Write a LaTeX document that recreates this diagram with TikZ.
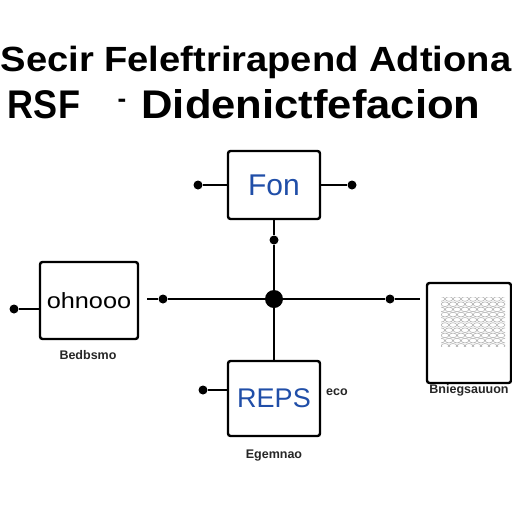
\documentclass[tikz,border=0pt]{standalone}
\usepackage{fontspec}
\setmainfont{Liberation Sans}
\usetikzlibrary{calc}
\definecolor{boxblue}{RGB}{32,78,168}
\tikzset{
  blk/.style={draw=black, line width=2.4pt, rounded corners=2.5pt, fill=white, inner sep=0pt},
  dotnode/.style={circle, fill=black, inner sep=0pt, minimum size=9pt},
  bigdot/.style={circle, fill=black, inner sep=0pt, minimum size=18pt},
  wire/.style={line width=1.6pt, black},
  lbl/.style={font=\fontsize{12.5}{14}\selectfont\bfseries, text=black!85, inner sep=0pt},
  title/.style={font=\fontsize{35}{40}\selectfont\bfseries, inner sep=0pt, anchor=base}
}
\begin{document}
\begin{tikzpicture}[x=1pt,y=-1pt]
\useasboundingbox (0,0) rectangle (512,512);
\fill[white] (0,0) rectangle (512,512);
% titles
\node[title] (t1) at (256,71) {\scalebox{1.09}[1]{Secir Feleftrirapend Adtiona}};
\node[title, font=\fontsize{40}{44}\selectfont\bfseries] (t2a) at (44,118) {\scalebox{0.9}[1]{RSF}};
\node[title, font=\fontsize{26}{30}\selectfont\bfseries] (t2b) at (122,107) {-};
\node[title, font=\fontsize{40}{44}\selectfont\bfseries] (t2c) at (311,118) {\scalebox{1.09}[1]{Didenictfefacion}};
% boxes
\node[blk, minimum width=92pt, minimum height=68pt, text=boxblue, font=\fontsize{30}{34}\selectfont] (fon) at (274,185) {Fon};
\node[blk, minimum width=98pt, minimum height=77pt, font=\fontsize{22}{26}\selectfont] (ohn) at (89,300.5) {\scalebox{1.15}[1]{ohnooo}};
\node[blk, minimum width=92pt, minimum height=75pt, text=boxblue, font=\fontsize{27}{30}\selectfont] (reps) at (274,398.5) {REPS};
\node[blk, minimum width=84pt, minimum height=100pt] (rbox) at (469,333) {};
% pattern inside right box
\begin{scope}
\clip (441,297) rectangle (505,346);
\foreach \r in {0,...,9} {
  \foreach \c in {0,...,8} {
    \pgfmathsetmacro{\xx}{441+\c*8+mod(\r,2)*4}
    \pgfmathsetmacro{\yy}{299+\r*5.2}
    \draw[gray!60, line width=0.6pt] (\xx,\yy) ellipse (3.8pt and 2.3pt);
  }
}
\end{scope}
% junction and dots
\node[bigdot] (j) at (274,299) {};
\node[dotnode] (d1) at (198,185) {};
\node[dotnode] (d2) at (352,185) {};
\node[dotnode] (d3) at (274,240) {};
\node[dotnode] (d4) at (163,299) {};
\node[dotnode] (d5) at (390,299) {};
\node[dotnode] (d6) at (14,309) {};
\node[dotnode] (d7) at (203,390) {};
\coordinate (hl) at (147,299);
\coordinate (hr) at (420,299);
% wires
\draw[wire] (fon.south) -- (d3) -- (j) -- (reps.north);
\draw[wire] (hl) -- (d4) -- (j) -- (d5) -- (hr);
\draw[wire] (d1) -- (d1 -| fon.west);
\draw[wire] (fon.east |- d2) -- (d2);
\draw[wire] (d6) -- (d6 -| ohn.west);
\draw[wire] (d7) -- (d7 -| reps.west);
% labels
\node[lbl] (l1) at (88,355) {Bedbsmo};
\node[lbl] (l2) at (469,390) {Bniegsauuon};
\node[lbl] (l3) at (337,392) {eco};
\node[lbl] (l4) at (274,456) {Egemnao};
\end{tikzpicture}
\end{document}
